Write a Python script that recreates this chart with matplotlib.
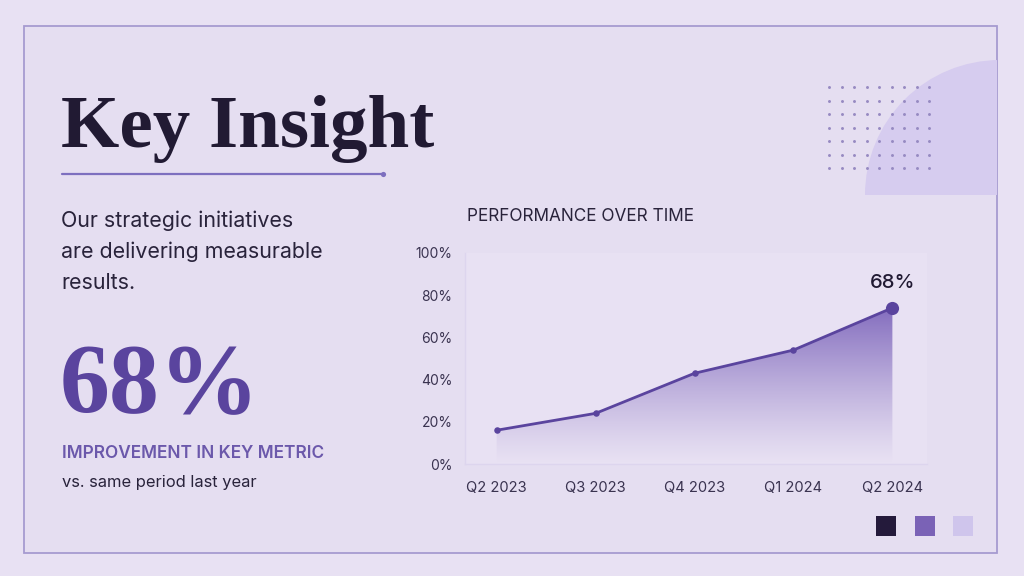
import numpy as np
import matplotlib
matplotlib.use("Agg")
import matplotlib.pyplot as plt
from matplotlib.patches import Rectangle, Wedge, Polygon

# ---- data ----
quarters = ["Q2 2023", "Q3 2023", "Q4 2023", "Q1 2024", "Q2 2024"]
performance = [16, 24, 43, 54, 74]
y_ticks = [0, 20, 40, 60, 80, 100]
y_tick_labels = ["0%", "20%", "40%", "60%", "80%", "100%"]
headline_value = "68%"
title = "Key Insight"
body_lines = ["Our strategic initiatives", "are delivering measurable", "results."]
metric_label = "IMPROVEMENT IN KEY METRIC"
metric_sub = "vs. same period last year"
chart_title = "PERFORMANCE OVER TIME"
swatch_colors = ["#241a3b", "#7a62b6", "#cfc5ec"]

# ---- styles ----
BG_OUT = "#e8e1f3"
BG_IN = "#e5def1"
DARK = "#211a33"
PURPLE = "#5a449e"
SANS = ["Inter", "DejaVu Sans"]
SERIF = ["Liberation Serif", "DejaVu Serif"]

W, H = 1024, 576
fig = plt.figure(figsize=(W / 100, H / 100), dpi=100, facecolor=BG_OUT)

# background / decoration axes in pixel coordinates
bg = fig.add_axes([0, 0, 1, 1])
bg.set_xlim(0, W)
bg.set_ylim(H, 0)
bg.axis("off")

frame = Rectangle((24, 26), 973, 527, facecolor=BG_IN, edgecolor="#a69bd0", lw=1.3, zorder=1)
bg.add_patch(frame)

clip_rect = Rectangle((24, 26), 973, 527, transform=bg.transData, facecolor="none", edgecolor="none")
wedge = Wedge((1000, 195), 135, 180, 270, facecolor="#d6ccef", edgecolor="none", zorder=2)
bg.add_patch(wedge)
wedge.set_clip_path(clip_rect)

gx, gy = np.meshgrid(829 + 12.5 * np.arange(9), 87 + 13.5 * np.arange(7))
bg.scatter(gx.ravel(), gy.ravel(), s=4.5, color="#978ac2", linewidths=0, zorder=3)

# title & underline
bg.text(61, 147, title, fontsize=54, fontweight="bold", family=SERIF, color=DARK,
        va="baseline", ha="left", zorder=4)
bg.plot([62, 383], [174, 174], color="#7d6fbf", lw=1.6, zorder=4, solid_capstyle="round")
bg.scatter([383], [174], s=14, color="#7d6fbf", zorder=4, linewidths=0)

for i, line in enumerate(body_lines):
    bg.text(61, 227 + 31 * i, line, fontsize=15.4, family=SANS, color="#29233b",
            va="baseline", ha="left", zorder=4)

bg.text(60, 412, headline_value, fontsize=72, fontweight="bold", family=SERIF, color=PURPLE,
        va="baseline", ha="left", zorder=4)
bg.text(62, 458, metric_label, fontsize=12.4, fontweight="semibold", family=SANS, color="#6b58ab",
        va="baseline", ha="left", zorder=4)
bg.text(62, 487, metric_sub, fontsize=11.9, family=SANS, color="#29233b",
        va="baseline", ha="left", zorder=4)

bg.text(467, 221, chart_title, fontsize=12.4, family=SANS, color="#29233b",
        va="baseline", ha="left", zorder=4)

for k, c in enumerate(swatch_colors):
    bg.add_patch(Rectangle((876 + 38.5 * k, 516), 20, 20, facecolor=c, edgecolor="none", zorder=4))

# ---- chart axes ----
left, right, top, bottom = 465, 927, 253, 464
ax = fig.add_axes([left / W, (H - bottom) / H, (right - left) / W, (bottom - top) / H])
ax.set_facecolor("#e8e1f3")
x = np.arange(len(quarters))
ax.set_xlim(-0.32, 4.35)
ax.set_ylim(0, 100)

# gradient area under line
xmin, xmax = ax.get_xlim()
grad = np.linspace(0, 1, 256).reshape(-1, 1)
alpha = np.clip((grad * 100 / max(performance)), 0, 1) ** 1.2 * 0.85
rgba = np.zeros((256, 1, 4))
rgba[..., 0], rgba[..., 1], rgba[..., 2] = 0.45, 0.35, 0.71
rgba[..., 3] = alpha
im = ax.imshow(rgba, extent=[xmin, xmax, 0, 100], origin="lower", aspect="auto", zorder=2)
poly_xy = np.vstack([np.column_stack([x, performance]), [[x[-1], 0], [x[0], 0]]])
poly = Polygon(poly_xy, closed=True, transform=ax.transData, facecolor="none", edgecolor="none")
ax.add_patch(poly)
im.set_clip_path(poly)

ax.plot(x, performance, color=PURPLE, lw=2.0, zorder=4)
ax.scatter(x[:-1], performance[:-1], s=22, color=PURPLE, zorder=5, linewidths=0)
ax.scatter([x[-1]], [performance[-1]], s=90, color=PURPLE, zorder=5, linewidths=0)
ax.annotate(headline_value, (x[-1], performance[-1]), xytext=(0, 18), textcoords="offset points",
            ha="center", va="center", fontsize=14.5, family=SANS, color=DARK, fontweight="medium")

ax.set_yticks(y_ticks)
ax.set_yticklabels(y_tick_labels, family=SANS, fontsize=10, color="#3a3350")
ax.set_xticks(x)
ax.set_xticklabels(quarters, family=SANS, fontsize=10.6, color="#3a3350")
ax.tick_params(length=0)
ax.tick_params(axis="y", pad=9)
ax.tick_params(axis="x", pad=12)
for s in ["top", "right"]:
    ax.spines[s].set_visible(False)
for s in ["left", "bottom"]:
    ax.spines[s].set_color("#ddd5ee")
    ax.spines[s].set_linewidth(1.0)

fig.savefig("out.png", dpi=100, facecolor=BG_OUT)
